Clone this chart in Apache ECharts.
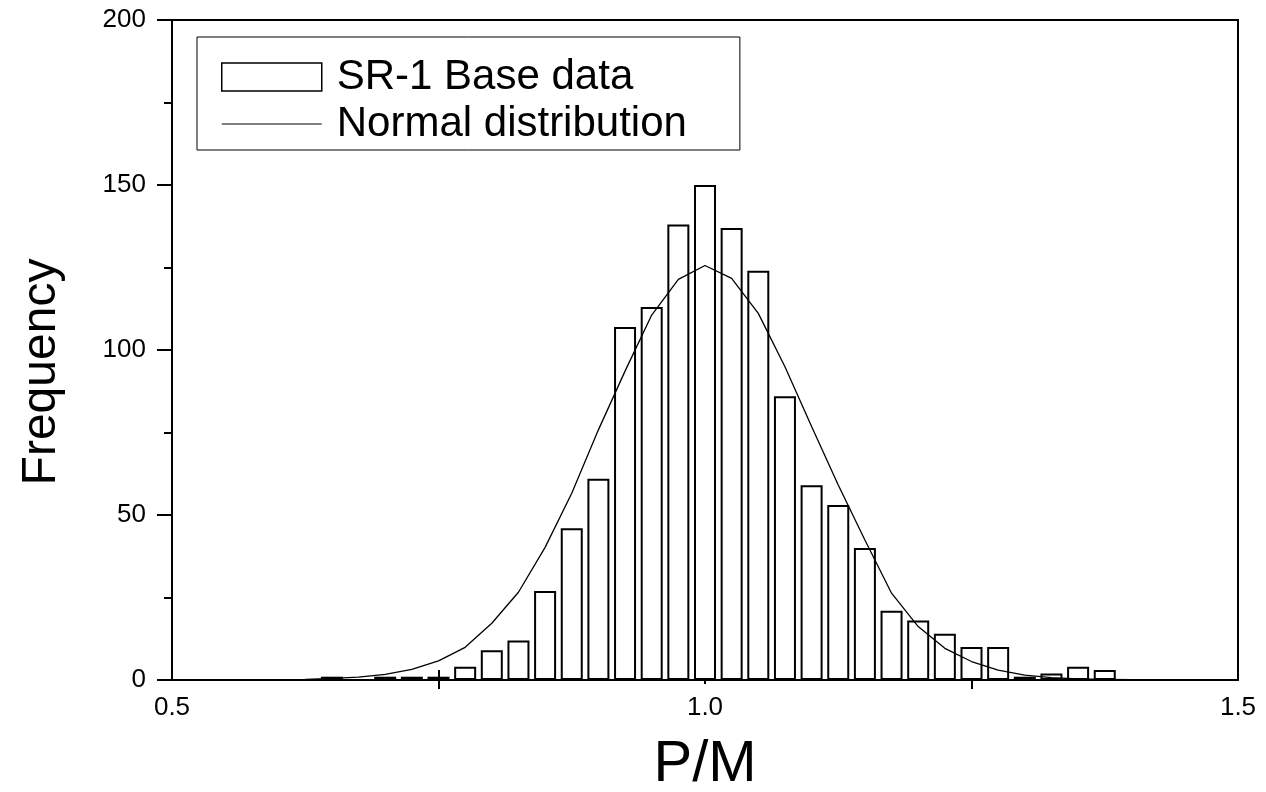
<!DOCTYPE html>
<html>
<head>
<meta charset="utf-8">
<script src="https://cdn.jsdelivr.net/npm/echarts@6/dist/echarts.min.js"></script>
<style>
  html, body { margin: 0; padding: 0; background: #fff; }
  #chart { width: 1266px; height: 792px; }
</style>
</head>
<body>
<div id="chart"></div>
<script>
// Histogram bin centres (P/M) and their counts
const binCenters = [0.65, 0.675, 0.70, 0.725, 0.75, 0.775, 0.80, 0.825, 0.85, 0.875,
                    0.90, 0.925, 0.95, 0.975, 1.00, 1.025, 1.05, 1.075, 1.10, 1.125,
                    1.15, 1.175, 1.20, 1.225, 1.25, 1.275, 1.30, 1.325, 1.35, 1.375];
const frequency = [1, 0, 1, 1, 1, 4, 9, 12, 27, 46,
                   61, 107, 113, 138, 150, 137, 124, 86, 59, 53,
                   40, 21, 18, 14, 10, 10, 1, 2, 4, 3];

// Fitted normal curve, sampled at the bin centres
const normalX = [0.60, 0.625, 0.65, 0.675, 0.70, 0.725, 0.75, 0.775, 0.80, 0.825,
                 0.85, 0.875, 0.90, 0.925, 0.95, 0.975, 1.00, 1.025, 1.05, 1.075,
                 1.10, 1.125, 1.15, 1.175, 1.20, 1.225, 1.25, 1.275, 1.30, 1.325,
                 1.35, 1.375, 1.40];
const normalY = [0.1, 0.2, 0.5, 0.9, 1.7, 3.2, 5.8, 9.9, 17.2, 26.6,
                 40.2, 56.6, 75.8, 93.6, 110.6, 121.4, 125.6, 121.7, 111.1, 94.9,
                 76.8, 59.1, 42.4, 26.3, 16.2, 9.6, 5.6, 3.0, 1.5, 0.7,
                 0.3, 0.2, 0.1];

// Axis tick labels
const xLabels = [0.5, 1.0, 1.5];
const xMinorTicks = [0.75, 1.25];

const FONT = 'Liberation Sans, Arial, sans-serif';

const barData = binCenters.map((x, i) => [x, frequency[i]]);
const lineData = normalX.map((x, i) => [x, normalY[i]]);

const chart = echarts.init(document.getElementById('chart'), null, { renderer: 'canvas' });

const baseX = {
  type: 'value',
  min: 0.5,
  max: 1.5,
  position: 'bottom',
  splitLine: { show: false },
  axisLine: { show: false }
};

chart.setOption({
  animation: false,
  backgroundColor: '#fff',
  grid: {
    left: 172, right: 28, top: 20, bottom: 112,
    outerBoundsMode: 'none',
    containLabel: false,
    show: true, borderColor: '#000', borderWidth: 2, backgroundColor: 'transparent'
  },
  graphic: [
    {
      type: 'text',
      x: 42, y: 372,
      rotation: Math.PI / 2,
      style: {
        text: 'Frequency', fill: '#000',
        font: '48px ' + FONT,
        align: 'center', verticalAlign: 'middle'
      }
    },
    {
      type: 'text',
      x: 705, y: 765,
      style: {
        text: 'P/M', fill: '#000',
        font: '58px ' + FONT,
        align: 'center', verticalAlign: 'middle'
      }
    }
  ],
  legend: {
    left: 197,
    top: 37,
    orient: 'vertical',
    padding: [19, 53, 5, 24],
    itemGap: 5,
    itemWidth: 100,
    itemHeight: 28,
    borderColor: '#000',
    borderWidth: 1,
    textStyle: { fontFamily: FONT, fontSize: 42, color: '#000', padding: [0, 0, 0, 10] },
    data: [
      { name: 'SR-1 Base data', icon: 'rect', itemStyle: { color: '#fff', borderColor: '#000', borderWidth: 1.5 } },
      { name: 'Normal distribution', itemStyle: { opacity: 0 }, lineStyle: { color: '#000', width: 1 } }
    ]
  },
  xAxis: [
    {
      ...baseX,
      axisLine: { show: true, lineStyle: { color: '#000', width: 2 } },
      axisTick: { show: true, customValues: [1.0], length: 4, lineStyle: { color: '#000', width: 2 } },
      axisLabel: {
        customValues: xLabels,
        formatter: v => v.toFixed(1),
        fontFamily: FONT, fontSize: 26, color: '#000', margin: 15
      }
    },
    {
      ...baseX,
      axisTick: { show: true, customValues: xMinorTicks, inside: false, length: 9, lineStyle: { color: '#000', width: 2 } },
      axisLabel: { show: false }
    },
    {
      ...baseX,
      axisTick: { show: true, customValues: xMinorTicks, inside: true, length: 10, lineStyle: { color: '#000', width: 2 } },
      axisLabel: { show: false }
    }
  ],
  yAxis: {
    type: 'value',
    min: 0,
    max: 200,
    interval: 50,
    splitLine: { show: false },
    axisLine: { show: true, lineStyle: { color: '#000', width: 2 } },
    axisTick: { show: true, length: 15, lineStyle: { color: '#000', width: 2 } },
    minorTick: { show: true, splitNumber: 2, length: 8, lineStyle: { color: '#000', width: 2 } },
    axisLabel: { fontFamily: FONT, fontSize: 26, color: '#000', margin: 26 }
  },
  series: [
    {
      name: 'SR-1 Base data',
      type: 'bar',
      xAxisIndex: 0,
      data: barData,
      barWidth: 22,
      itemStyle: { color: '#fff', borderColor: '#000', borderWidth: 2 },
      z: 2
    },
    {
      name: 'Normal distribution',
      type: 'line',
      xAxisIndex: 0,
      data: lineData,
      symbol: 'none',
      smooth: false,
      lineStyle: { color: '#000', width: 1.3 },
      itemStyle: { color: '#000' },
      z: 3
    }
  ]
});
</script>
</body>
</html>
